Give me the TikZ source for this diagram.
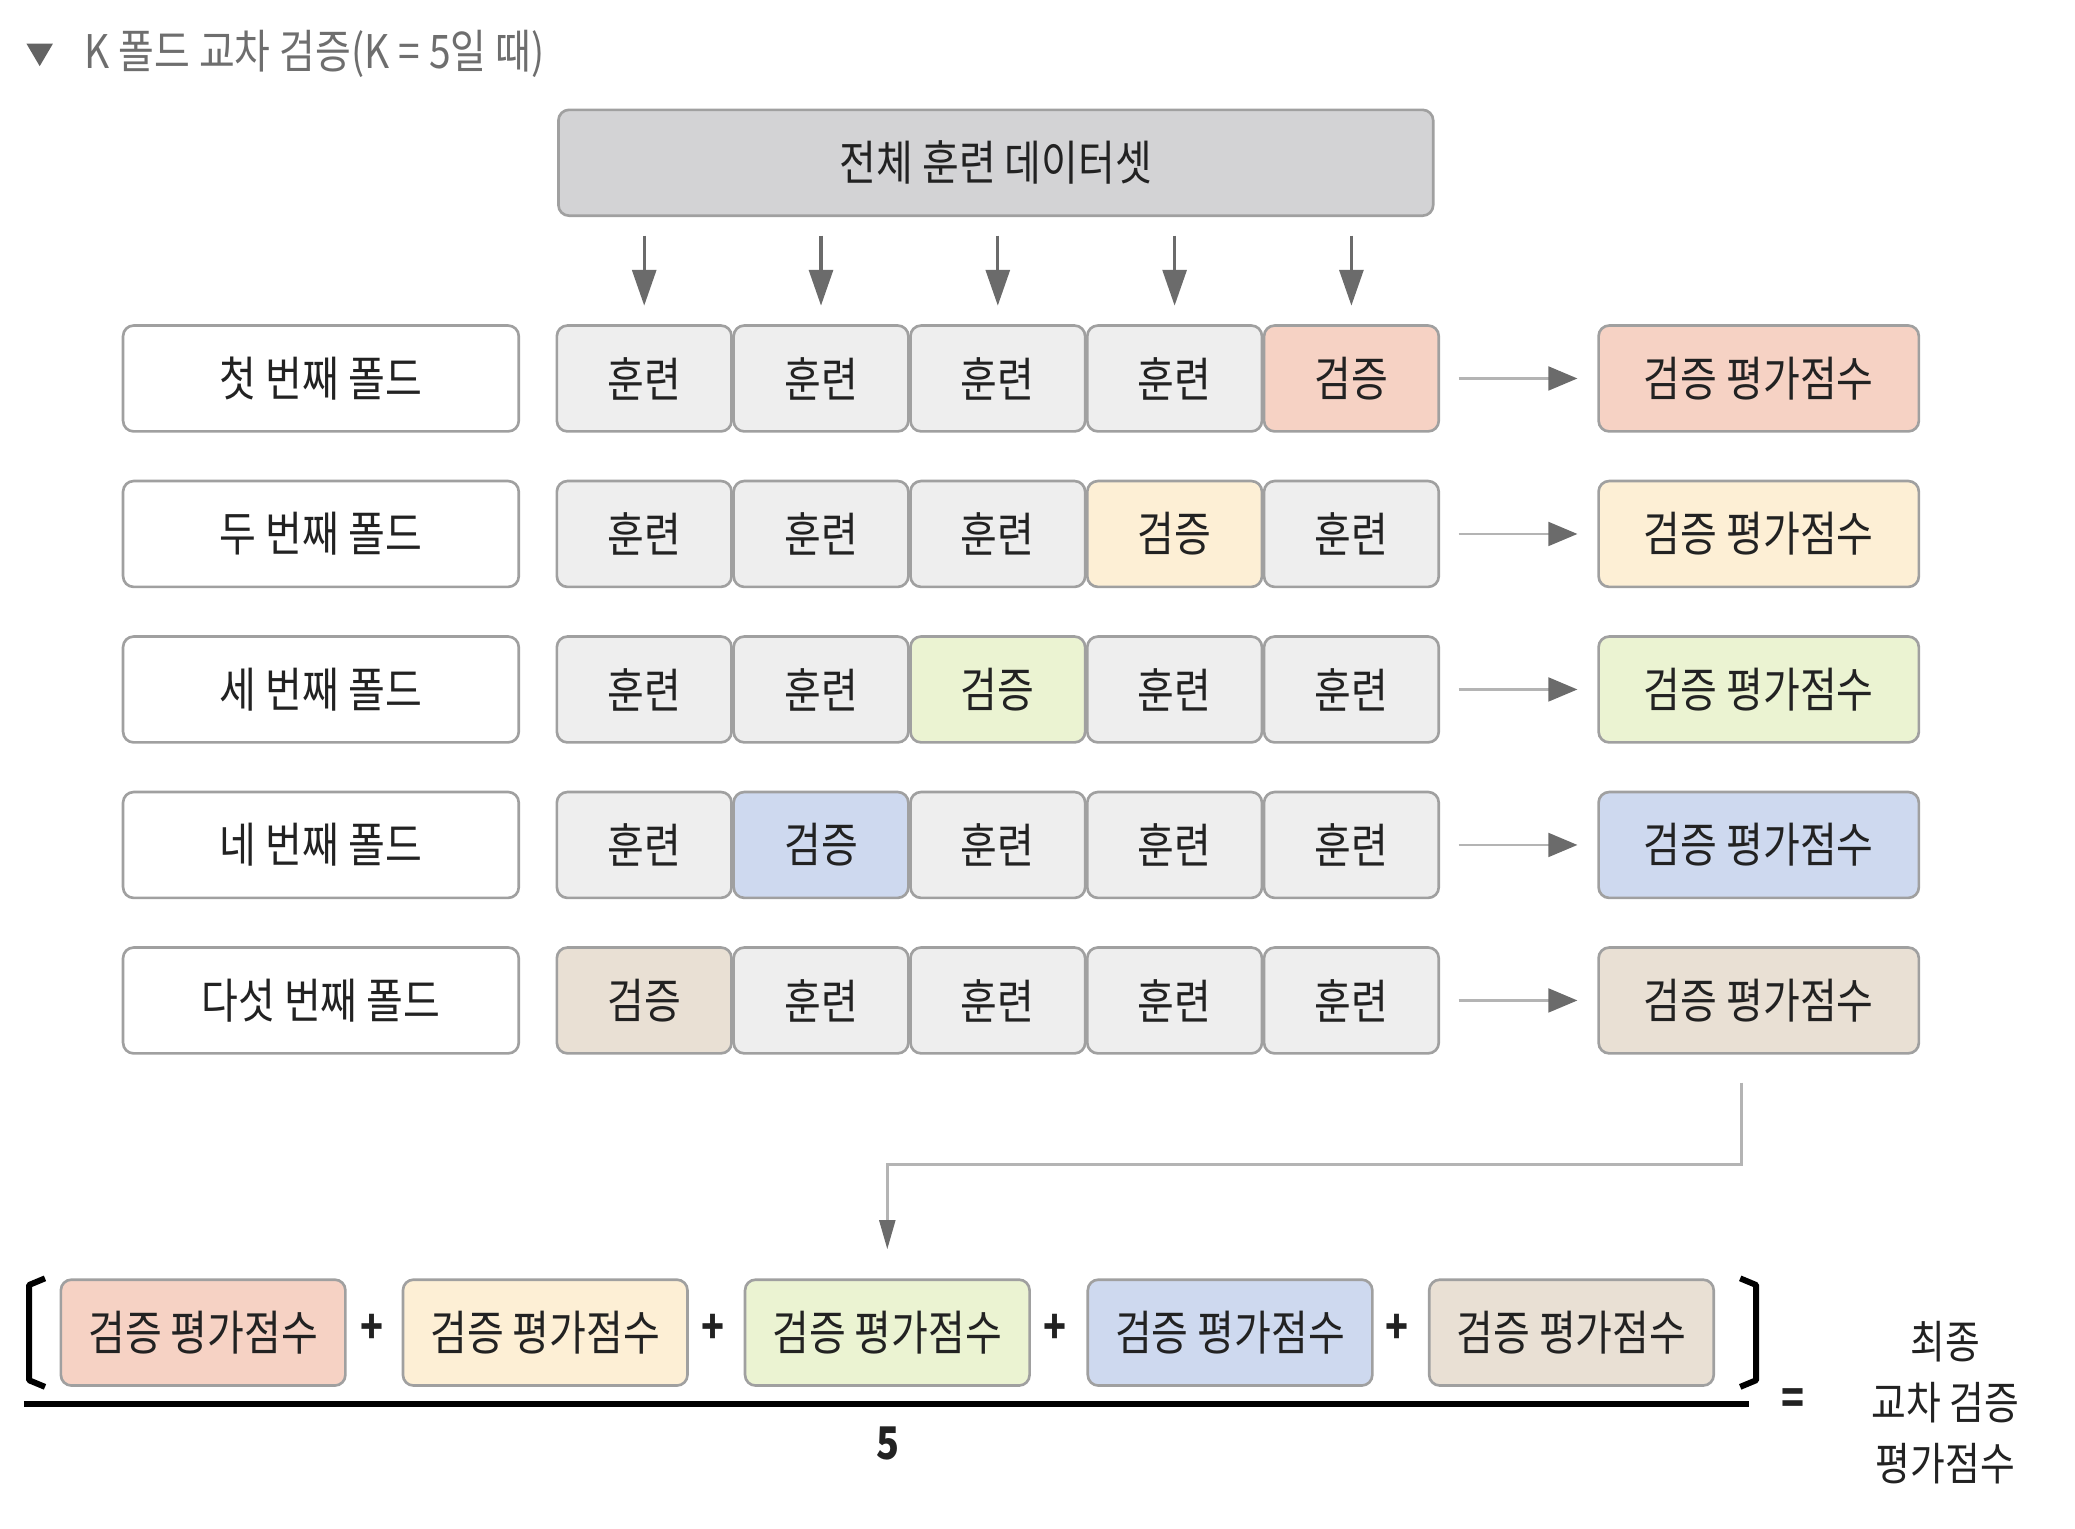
\documentclass[tikz,border=0pt]{standalone}
\usepackage{fontspec}
\setmainfont{Noto Sans CJK KR}[FakeStretch=0.84]
\usetikzlibrary{arrows.meta,calc}
\definecolor{trainfill}{HTML}{EEEEEE}
\definecolor{topfill}{HTML}{D3D3D5}
\definecolor{boxline}{HTML}{A0A0A0}
\definecolor{valA}{HTML}{F6D2C4}
\definecolor{valB}{HTML}{FDEFD5}
\definecolor{valC}{HTML}{EBF3D2}
\definecolor{valD}{HTML}{CED9EF}
\definecolor{valE}{HTML}{E9E0D4}
\definecolor{arrowgray}{HTML}{6B6B6B}
\definecolor{linegray}{HTML}{B4B4B4}
\definecolor{titlegray}{HTML}{6E6E6E}
\definecolor{ink}{HTML}{222222}
\tikzset{
  box/.style={draw=boxline, line width=2pt, rounded corners=8pt, minimum height=80pt,
    inner sep=0pt, text=ink, font=\fontsize{36}{40}\selectfont},
  topbox/.style={box, fill=topfill, minimum width=661pt},
  foldbox/.style={box, fill=white, minimum width=299pt},
  cellbox/.style={box, fill=trainfill, minimum width=132pt},
  scorebox/.style={box, minimum width=242pt},
  sumbox/.style={box, minimum width=215pt},
  darr/.style={draw=arrowgray, line width=2.5pt, -{Triangle[length=27pt,width=18pt]}},
  rarr/.style={draw=linegray, line width=2pt, -{Triangle[length=22pt,width=18pt,color=arrowgray]}},
  carr/.style={draw=linegray, line width=2pt, -{Triangle[length=22pt,width=12pt,color=arrowgray]}},
  brk/.style={draw=black, line width=4.5pt, line join=round},
  sym/.style={inner sep=0pt, text=ink, font=\fontsize{34}{38}\selectfont\bfseries},
}
\begin{document}
\begin{tikzpicture}[x=1pt,y=-1pt]
\useasboundingbox (0,0) rectangle (1568,1155.4);
% title
\fill[titlegray!90!black] (20,33) -- (40,33) -- (30,50) -- cycle;
\node[anchor=west, inner sep=0pt, text=titlegray, font=\fontsize{35}{38}\selectfont] (title) at (64,41) {K 폴드 교차 검증(K\hspace{7pt}=\hspace{7pt}5일 때)};
% top box
\node[topbox] (top) at (752.5,123) {전체 훈련 데이터셋};
% rows
\foreach \r/\lab/\vc in {1/첫 번째 폴드/valA, 2/두 번째 폴드/valB, 3/세 번째 폴드/valC, 4/네 번째 폴드/valD, 5/다섯 번째 폴드/valE}{
  \pgfmathsetmacro\yy{286+117.5*(\r-1)}
  \pgfmathtruncatemacro\vcol{6-\r}
  \node[foldbox] (f\r) at (242.5,\yy) {\lab};
  \foreach \k in {1,...,5}{
    \pgfmathsetmacro\xx{420+133.6*(\k-0.5)}
    \ifnum\k=\vcol
      \node[cellbox, fill=\vc] (c\r-\k) at (\xx,\yy) {검증};
    \else
      \node[cellbox] (c\r-\k) at (\xx,\yy) {훈련};
    \fi
  }
  \node[scorebox, fill=\vc] (s\r) at (1329,\yy) {검증 평가점수};
  \draw[rarr] ([xshift=14pt]c\r-5.east) -- ([xshift=-15pt]s\r.west);
}
% down arrows
\foreach \k in {1,...,5}{
  \draw[darr] ($(top.south -| c1-\k.north)+(0,14)$) -- ($(c1-\k.north)+(0,-14)$);
}
% bottom sum row
\node[sumbox, fill=valA] (b1) at (153.5,1007) {검증 평가점수};
\node[sumbox, fill=valB] (b2) at (412,1007) {검증 평가점수};
\node[sumbox, fill=valC] (b3) at (670.5,1007) {검증 평가점수};
\node[sumbox, fill=valD] (b4) at (929.5,1007) {검증 평가점수};
\node[sumbox, fill=valE] (b5) at (1187.5,1007) {검증 평가점수};
\node[sym] (p1) at (281,1004) {+};
\node[sym] (p2) at (539,1004) {+};
\node[sym] (p3) at (797,1004) {+};
\node[sym] (p4) at (1056,1004) {+};
% connector
\coordinate (k1) at (1316,818);
\coordinate (k2) at (1316,880);
\coordinate (k3) at (b3.north |- k2);
\draw[carr] (k1) -- (k2) -- (k3) -- ($(b3.north)+(0,-22)$);
% brackets and fraction
\draw[brk] (34,966) -- (22,971) -- (22,1043) -- (34,1048);
\draw[brk] (1315,966) -- (1327,971) -- (1327,1043) -- (1315,1048);
\draw[line width=4.5pt] (18,1061) -- (1322,1061);
\node[sym] (five) at (671,1091) {5};
\node[sym] (eq) at (1355,1059) {=};
\node[inner sep=0pt, align=center, text=ink, font=\fontsize{34}{46}\selectfont] (final) at (1470,1060) {최종\\교차 검증\\평가점수};
\end{tikzpicture}
\end{document}
